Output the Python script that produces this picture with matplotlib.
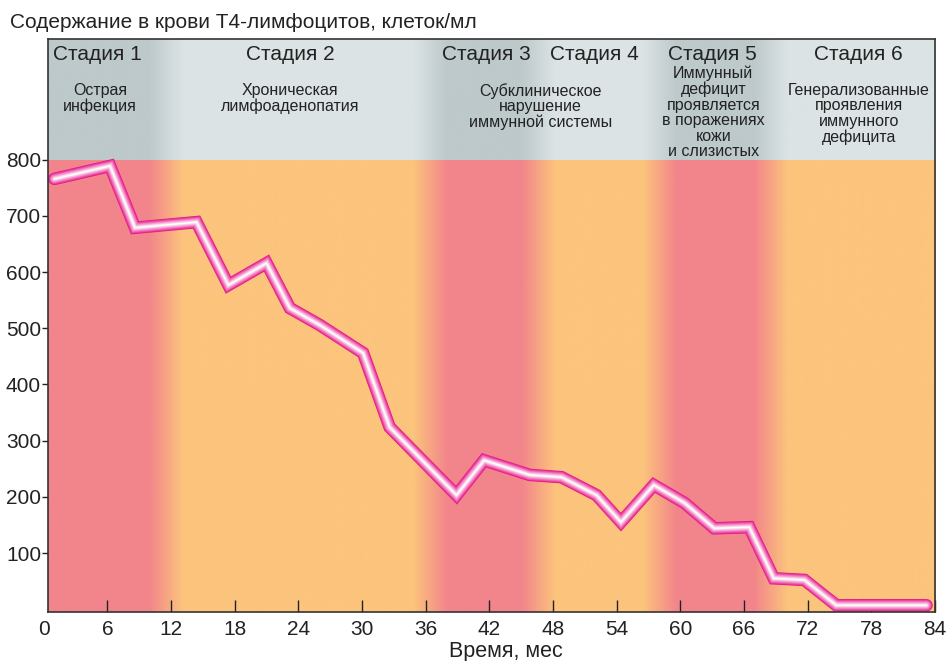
import numpy as np
import matplotlib
matplotlib.use("Agg")
import matplotlib.pyplot as plt
from matplotlib.colors import to_rgb

plt.rcParams['font.family'] = ['Liberation Sans', 'DejaVu Sans']

# T4 lymphocyte count over time (months)
months = [1.0, 6.25, 8.6, 14.4, 17.4, 21.0, 23.2, 26.0, 30.1, 32.6,
          38.9, 41.5, 45.8, 48.8, 52.1, 54.4, 57.5, 60.4, 63.2, 66.5,
          68.8, 71.7, 74.7, 83.2]
cells = [766, 789, 679, 689, 577, 616, 536, 506, 456, 324,
         203, 265, 239, 235, 203, 155, 221, 189, 144, 146,
         55, 52, 7, 7]

# stages: boundaries in months, label x position, header texts
stage_edges = [0, 11.5, 36.4, 46.6, 58.0, 68.5, 84]
stage_pink = [1, 0, 1, 0, 1, 0]
stage_names = ['Стадия 1', 'Стадия 2', 'Стадия 3', 'Стадия 4', 'Стадия 5', 'Стадия 6']
stage_label_x = [5.1, 23.2, 41.7, 51.9, 63.0, 76.8]
stage_desc = ['Острая\nинфекция',
              'Хроническая\nлимфоаденопатия',
              'Субклиническое\nнарушение\nиммунной системы',
              '',
              'Иммунный\nдефицит\nпроявляется\nв поражениях\nкожи\nи слизистых',
              'Генерализованные\nпроявления\nиммунного\nдефицита']
desc_x = [5.3, 23.2, 46.8, 51.9, 63.1, 76.8]
desc_top = [937, 937, 937, 937, 967, 937]

xticks = list(range(0, 85, 6))
yticks = list(range(100, 801, 100))

pink = np.array(to_rgb('#f2858b'))
orange = np.array(to_rgb('#fcc47c'))
head_dark = np.array(to_rgb('#bdc9cb'))
head_light = np.array(to_rgb('#dce3e5'))

# pink weight along x with soft transitions between stages
xs = np.linspace(0, 84, 1200)
w = 3.2
px, pw = [0], [stage_pink[0]]
for i in range(1, len(stage_edges) - 1):
    px += [stage_edges[i] - w / 2, stage_edges[i] + w / 2]
    pw += [stage_pink[i - 1], stage_pink[i]]
px.append(84)
pw.append(stage_pink[-1])
t = np.interp(xs, px, pw)

band = t[:, None] * pink + (1 - t[:, None]) * orange
head = t[:, None] * head_dark + (1 - t[:, None]) * head_light

fig = plt.figure(figsize=(9.49, 6.61), dpi=100)
ax = fig.add_axes([48 / 949, 1 - 612 / 661, (935 - 48) / 949, (612 - 39) / 661])

x0, ymin, ytop = 0.4, -5, 1015
ax.imshow(band[None, :, :], extent=[0, 84, ymin, 800], aspect='auto', zorder=0)
ax.imshow(head[None, :, :], extent=[0, 84, 800, ytop], aspect='auto', zorder=0)

# tube-like line: wide magenta to thin white
edge = np.array(to_rgb('#e6168a'))
n = 10
for k in range(n):
    f = k / (n - 1)
    col = edge * (1 - f) + np.ones(3) * f
    lw = 9.0 - 8.2 * f
    ax.plot(months, cells, color=col, lw=lw, solid_joinstyle='miter',
            solid_capstyle='round', zorder=3 + k)

ax.set_xticks(xticks)
ax.set_yticks(yticks)
ax.set_xlim(x0, 84)
ax.set_ylim(ymin, ytop)
ax.tick_params(axis='x', direction='in', length=9, width=1, labelsize=15,
               pad=6, colors='#222222')
ax.tick_params(axis='y', direction='out', length=4, width=1, labelsize=15,
               pad=1, colors='#222222')
# the 0 label sits just left of the axis start
ax.annotate(str(xticks[0]), xy=(xticks[0], 0), xycoords=ax.get_xaxis_transform(),
            xytext=(0, -6), textcoords='offset points', ha='center', va='top',
            fontsize=15, color='#222222', annotation_clip=False)
for s in ax.spines.values():
    s.set_color('#333333')
    s.set_linewidth(1.2)
    s.set_zorder(20)

for name, x in zip(stage_names, stage_label_x):
    ax.text(x, 987, name, ha='center', va='center', fontsize=15, color='#222222')
for d, x, y in zip(stage_desc, desc_x, desc_top):
    if d:
        ax.text(x, y, d, ha='center', va='top', fontsize=11.5, color='#222222',
                linespacing=1.04)

fig.text(10 / 949, 1 - 22 / 661, 'Содержание в крови Т4-лимфоцитов, клеток/мл',
         ha='left', va='center', fontsize=15, color='#222222')
fig.text(506 / 949, 1 - 651 / 661, 'Время, мес', ha='center', va='center',
         fontsize=15.5, color='#222222')

fig.savefig('out.png', dpi=100)
